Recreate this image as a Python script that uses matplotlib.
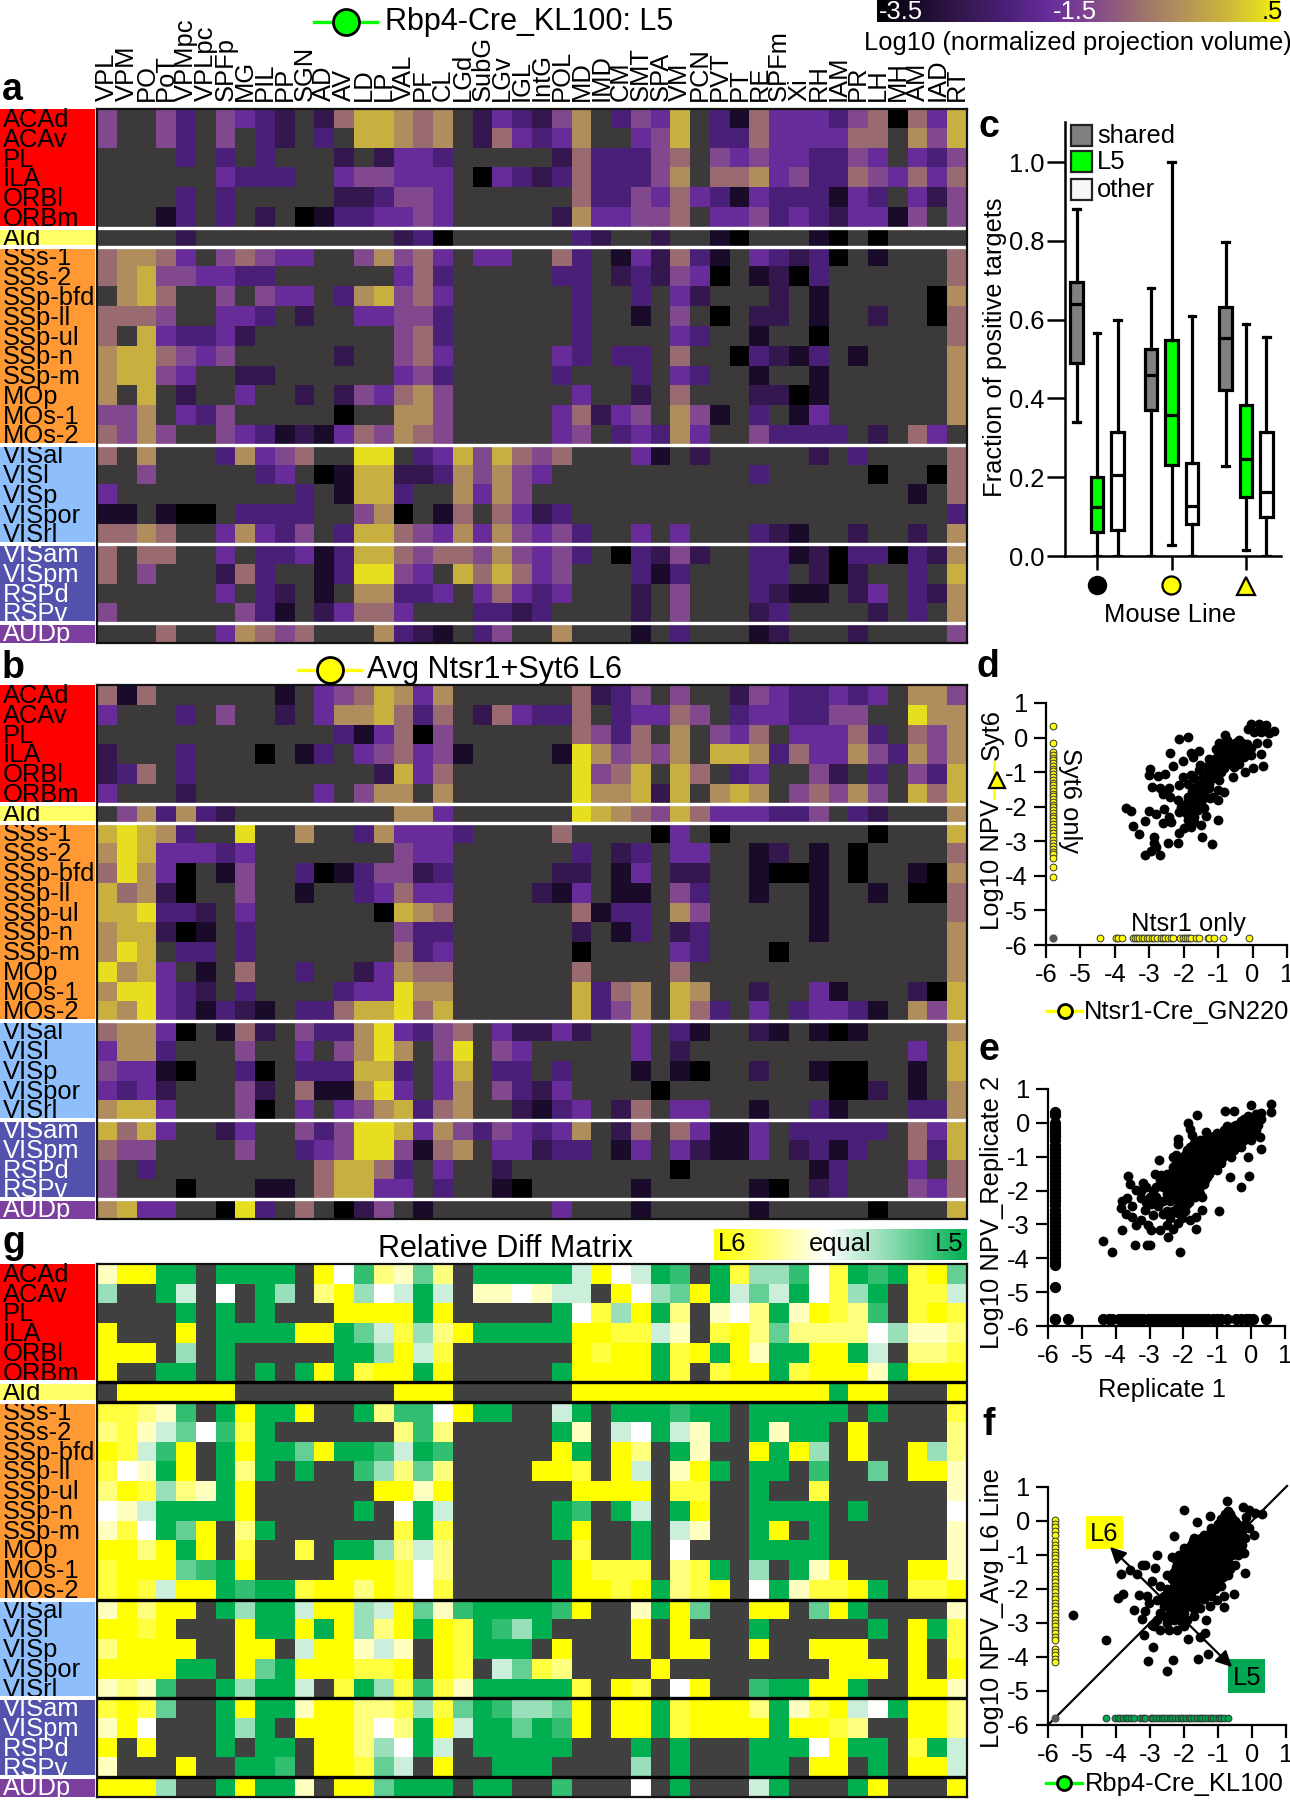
import numpy as np
import matplotlib
matplotlib.use('Agg')
import matplotlib.pyplot as plt
from matplotlib.colors import LinearSegmentedColormap
from matplotlib.patches import Rectangle

plt.rcParams['font.family'] = ['Liberation Sans', 'DejaVu Sans']
plt.rcParams['axes.unicode_minus'] = False

targets = ['VPL', 'VPM', 'PO', 'PoT', 'VPMpc', 'VPLpc', 'SPFp', 'MG', 'PIL', 'PP', 'SGN', 'AD', 'AV', 'LD', 'LP',
           'VAL', 'PF', 'CL', 'LGd', 'SubG', 'LGv', 'IGL', 'IntG', 'POL', 'MD', 'IMD', 'CM', 'SMT', 'SPA', 'VM',
           'PCN', 'PVT', 'PT', 'RE', 'SPFm', 'Xi', 'RH', 'IAM', 'PR', 'LH', 'MH', 'AM', 'IAD', 'RT']
sources = ['ACAd', 'ACAv', 'PL', 'ILA', 'ORBl', 'ORBm', 'AId', 'SSs-1', 'SSs-2', 'SSp-bfd', 'SSp-ll', 'SSp-ul',
           'SSp-n', 'SSp-m', 'MOp', 'MOs-1', 'MOs-2', 'VISal', 'VISl', 'VISp', 'VISpor', 'VISrl', 'VISam', 'VISpm',
           'RSPd', 'RSPv', 'AUDp']

# one digit per cell: 0 darkest .. 9 brightest, "." no projection
rbp4_levels = [
    "5..5 3.54 32.2 6887 67.2 4325 7.35 48.3 1644 4356 0648",
    "5..5 3.5. 32.3 .887 67.2 6434 7..4 58.3 3644 4466 .758",
    ".... 3.3. 3... 2.24 43.. ...2 6333 56.5 4544 3354 .435",
    ".... ..43 33.. 4554 44.0 4323 6333 57.6 6745 3365 4646",
    ".... 3.3. .... 2235 54.. .... 6335 4643 1433 3143 .425",
    "...1 3.3. 2.01 3344 54.. ...2 7445 56.4 4534 3244 15.5",
    ".... 2... .... ...2 30.. .... 32.. 2..1 0... 10.0 ....",
    "6776 4.56 544. .575 64.4 4..6 3.14 2631 .432 30.1 ...6",
    "6785 5443 3... ...4 63.. ...3 3.23 2540 .120 3... ...6",
    ".786 ..5. 544. 3785 64.. .... 3..3 .42. ..2. 1... ..07",
    "6665 ..44 3.2. .445 53.. .... 3..1 .5.0 .22. 1..2 ..06",
    "6.84 3342 .... ...5 63.. .... 3... .43. .1.. 0... ...6",
    "7886 545. .... 2..5 64.. ...4 3.33 .6.. 0321 3.1. ...7",
    "7885 4..2 2... ...4 53.. ...3 ...3 .43. .1.. 1... ...7",
    "7.8. 2..4 ..2. 2546 75.. .... 4..2 .6.. .220 1... ...7",
    "557. 435. .... 0..7 75.. ...4 6245 .751 .3.1 4... ...7",
    "6575 ..54 3121 4657 65.. ...4 5.34 374. .533 33.2 .64.",
    "6.7. ..37 456. .99. 3485 8656 ...4 1.2. .... 2.3. ...6",
    "..5. .... 34.0 1882 2375 754. .... .... .3.. ...0 ..06",
    "4... .... ..3. 1883 ..74 75.. .... .... .... .... .1.6",
    "11.1 00.3 333. .570 .16. 6423 .... .... .... .... ...3",
    "6676 ..47 435. 3886 5474 7545 3..4 .4.. .321 ..2. .2.7",
    "6.66 ..4. 3341 3886 5665 7545 3.03 252. .331 2033 0327",
    "6.5. ..26 3..1 3995 4.86 8645 ...3 13.. .33. 202. .3.8",
    ".... ..4. 32.1 .773 34.4 6434 ...2 .5.. .321 1.24 .327",
    "5... ...5 31.2 4664 ...3 323. ...2 .5.. .23. ...2 .3.7",
    "...6 ..47 656. ..73 21.3 5..7 ...1 .3.. .12. ..2. ...5",
]
avg_l6_levels = [
    "616. .... .1.4 5687 47.. .... 6235 .5.. 2543 3434 .775",
    "4... 3.5. .2.4 7786 36.2 6433 6.34 465. 3443 355. .977",
    ".... .... .... 3146 05.. .... 6536 .7.5 46.4 4463 .657",
    "2... 3... 0.13 .456 451. ...1 9756 57.8 8736 4475 3757",
    "236. 3... .... ..28 46.. .... 9568 .86. 34.. 52.3 .538",
    "4... 2... ...4 .577 .7.. .... 9778 28.7 87.5 6575 .868",
    ".573 732. .... ...7 74.. .... 9876 5864 4433 5.32 ...7",
    "8987 3..9 ..7. .374 443. ...6 .... 04.0 .... ...0 ...8",
    "7984 4434 .... ...5 44.. .... 3.23 .44. .12. 1.0. ...6",
    "6974 0.15 ..30 1355 23.. ...2 2.14 .22. .100 1.0. .107",
    "8672 0..5 ..1. .346 44.. ..21 4.11 .53. .1.. 1..1 .006",
    "8893 32.4 .... ..08 76.. .... 6133 .75. .... 1... ...6",
    "7882 01.3 .... ...5 33.. .... 2.13 .23. .... 1... ...7",
    "798. 33.3 .... ...6 34.. .... 0... .43. ..0. .... ...7",
    "9784 .1.6 ..3. .247 66.. .... 6... .6.. .... .... ...7",
    "7994 32.3 .... 3449 77.. .... 8367 .87. .2.. 41.. .208",
    "8794 3132 1.33 6889 68.. .... 8357 .863 .4.3 4431 .758",
    "6774 0.16 2.53 3794 356. 4224 2..4 .31. .21. 101. ...7",
    "4773 ...5 ..4. 5797 .59. 54.. ...4 .2.. .... .... .4.8",
    "5441 0..3 0.33 3883 .48. 33.3 ...1 .10. .2.. 100. .1.8",
    "4342 ...5 2.61 1794 .47. 5324 .... 0... .... .002 .1.7",
    "7884 ...5 0.4. 4578 367. .213 4.26 .44. .1.. 31.. .337",
    "8684 ..24 ..53 5998 4753 5434 7.26 .641 14.3 3333 .648",
    "655. ...5 ..34 5995 167. 4423 3.14 .421 14.2 313. .638",
    "5.3. .... ...6 8863 .4.. 2... .... .0.. .... 13.. .4.6",
    "5... 0... 11.6 8844 .3.. 10.. ...1 .... .10. 23.. .546",
    "7844 ..09 3.6. 025. 1... ...4 ...1 .... .1.. ...0 ...8",
]
# 0 full L6 yellow, 4 equal, 9 full L5 green, "." not shared
rel_diff_levels = [
    "3009 9.99 99.0 4823 72.9 9999 5045 98.9 1668 4198 9107",
    "6..9 5.4. 96.2 0645 95.3 3435 5.04 6709 5759 4169 .115",
    ".... 9.9. 9... 0000 90.. ...9 4160 92.3 4293 0128 .101",
    "0... 0.99 9900 9751 6209 9999 0011 53.1 0272 2224 6332",
    "000. 6.9. .... 9960 51.. .... 0100 9109 0399 0095 .221",
    "0..9 9.9. 9.90 9100 90.. ...9 0000 91.1 0091 0003 9000",
    ".000 000. .... ...0 00.. .... 0000 0000 0000 0900 ...0",
    "1123 8.90 990. .928 8409 9..5 9.99 9899 .999 99.9 ...1",
    "2135 7481 9... ...2 82.. ...9 3.54 9539 .939 9.0. ...2",
    "0158 0.90 9970 9985 98.. ...0 9.02 .93. .090 6.0. .062",
    "1439 0.92 9.9. .862 72.. ..00 1.05 .309 .99. 8..7 .003",
    "2016 2390 .... ..00 30.. .... 0000 .11. .9.. 1... ...3",
    "4359 9990 .... .9.4 95.. ...9 8.95 .90. .999 9.9. ...4",
    "3149 70.2 9... ...1 91.. ...9 0..9 .53. .90. 9... ...3",
    "0020 90.1 ..1. 9962 52.. .... 1..9 .4.. .999 9... ...3",
    "1000 7890 .... 0001 42.. ...9 0111 .219 .6.9 30.. .003",
    "1015 0098 9910 0201 41.. ...9 0010 9210 .493 1109 .110",
    "3020 0.96 9950 0650 7389 9998 0..3 907. .00. 709. ...3",
    "0010 ...0 9909 0620 9019 869. ...0 .0.. .9.. ...9 .091",
    "2000 0..0 0.50 0353 .019 99.0 ...0 .00. .0.. 000. .0.1",
    "0000 99.0 7900 0110 .01. 5712 .... 0... .... .000 .0.0",
    "3238 ..96 995. 1961 8139 9999 1.01 .40. .899 009. .003",
    "1017 ..90 9930 0221 6179 8667 0.00 9100 0293 1054 9002",
    "304. ..96 9.00 0242 9059 9798 0.00 9100 0090 012. .002",
    "0.0. ..9. 99.0 0264 95.9 9999 ...9 .9.. .999 4099 .195",
    "3... 0..9 98.0 0175 .0.. 999. ...6 .9.. .99. 00.9 .005",
    "0006 ..90 993. 0079 99.9 9..8 ...4 .9.. .59. ..90 ...0",
]

# boxes: low whisker, q1, median, q3, high whisker
shared_boxes = [(0.34, 0.49, 0.64, 0.695, 0.88), (0.0, 0.37, 0.46, 0.525, 0.68), (0.228, 0.422, 0.553, 0.632, 0.798)]
l5_boxes = [(0.0, 0.062, 0.125, 0.20, 0.567), (0.028, 0.232, 0.358, 0.547, 1.0), (0.016, 0.151, 0.246, 0.383, 0.59)]
other_boxes = [(0.0, 0.067, 0.205, 0.315, 0.60), (0.0, 0.08, 0.127, 0.235, 0.61), (0.0, 0.10, 0.163, 0.315, 0.555)]

d_points = [(-2.39, -.44), (-2.14, -.05), (-1.87, .02), (-2.30, -.81), (-2.97, -.92), (-3.0, -1.07), (-2.75, -1.12),
            (-2.54, -1.04), (-2.92, -1.42), (-2.69, -1.47), (-2.42, -1.45), (-2.61, -1.63), (-2.40, -1.71),
            (-2.14, -1.37), (-2.02, -.67), (-1.79, -.46), (-1.57, -.38), (-1.74, -.56), (-2.01, -1.15), (-1.79, -1.09),
            (-1.88, -1.33), (-1.69, -1.18), (-1.52, -.80), (-1.26, -.63), (-1.35, -.85), (-1.06, -.32), (-.79, .07),
            (-.74, -.08), (-.97, -.17), (-.63, -.41), (-.39, -.08), (-.24, -.27), (-.05, -.51), (-.53, -.56),
            (-.72, -.75), (-.92, -.99), (-1.11, -1.13), (-1.30, -1.04), (-1.50, -1.33), (-1.26, -1.33), (-1.01, -1.52),
            (-.82, -1.57), (-1.16, -1.71), (-1.01, -1.81), (-1.35, -1.71), (-1.69, -1.71), (-1.88, -1.71),
            (-2.17, -1.81), (-2.08, -2.0), (-1.88, -2.0), (-1.69, -1.90), (-1.50, -1.90), (-1.79, -2.19), (-1.59, -2.10),
            (-1.88, -2.38), (-1.69, -2.29), (-1.79, -2.58), (-1.50, -2.53), (-1.98, -2.63), (-2.13, -2.77),
            (-1.48, -2.88), (-1.19, -3.08), (-1.35, -2.26), (-1.01, -2.37), (-2.56, -2.08), (-2.15, -2.16),
            (-2.80, -2.21), (-2.42, -2.29), (-2.61, -2.48), (-2.37, -2.43), (-2.46, -3.04), (-2.17, -3.06),
            (-3.69, -2.05), (-3.53, -2.13), (-3.46, -2.56), (-3.29, -2.78), (-3.11, -2.41), (-3.0, -2.12),
            (-3.11, -3.40), (-2.87, -2.88), (-2.95, -3.27), (-2.80, -3.17), (-2.69, -3.41), (-2.85, -3.06),
            (-.58, -1.13), (-.22, -.99), (.02, -.89), (.31, -.82), (-.14, .26), (-.05, .40), (.19, .40), (.39, .36),
            (.63, .19), (.48, .12), (.24, .16), (.05, .16), (.14, -.17), (.42, -.17), (.24, -.48), (-.14, -.37),
            (-.34, -.46), (-.43, -.61), (-.63, -.70), (-.82, -.89), (-.97, -1.23), (-1.26, -1.47), (-1.45, -1.57),
            (-1.64, -1.52), (-.24, -.56), (-.39, -.75), (-.53, -.85), (-1.45, -1.15), (-1.2, -.95), (-1.0, -.75),
            (-.8, -.55), (-.55, -.25), (-.3, -.15), (-1.55, -.95), (-1.9, -1.9), (-1.4, -2.05)]
d_core = [(-1.25, -.8), (-1.15, -.7), (-1.05, -.6), (-.9, -.45), (-.8, -.3), (-.65, -.2), (-.5, -.3), (-.5, -.15), (-.15, -.2),
          (-.05, -.3), (-1.6, -1.4), (-1.4, -1.3), (-1.2, -1.2), (-1.5, -1.55), (-1.25, -1.75), (-1.75, -1.55), (-1.55, -1.75),
          (-1.8, -1.85), (-1.65, -2.0), (-1.9, -2.2), (-1.7, -2.45), (-1.05, -.95), (-.85, -.65), (-.7, -.55), (-.45, -.4)]
d_only_syt6 = [.33, -.15, -.42, -.5, -.58, -.66, -.74, -.82, -.9, -.98, -1.06, -1.14, -1.22, -1.3, -1.38, -1.46, -1.54,
               -1.62, -1.7, -1.78, -1.86, -1.94, -2.02, -2.1, -2.18, -2.26, -2.34, -2.42, -2.5, -2.58, -2.66, -2.76,
               -2.85, -2.95, -3.05, -3.14, -3.22, -3.3, -3.38, -3.48, -3.75, -4.02]
d_only_ntsr1 = [-4.42, -3.98, -3.91, -3.78, -3.48, -3.42, -3.36, -3.29, -3.22, -3.15, -3.08, -3.0, -2.93, -2.87, -2.78,
                -2.66, -2.6, -2.53, -2.46, -2.37, -2.3, -2.1, -2.03, -1.96, -1.9, -1.84, -1.79, -1.64, -1.57, -1.3,
                -1.26, -1.13, -.85, -.1]

e_points = [(.6, .56), (.6, .32), (0, .53), (-.76, .36), (-.5, .36), (-1.6, .23), (-1.86, 0), (-1.81, -.19), (-1.34, -.26),
            (-2.16, -.47), (-2.16, -.62), (-1.76, -.35), (.26, -.43), (.28, -.78), (-.06, -1.57), (-.29, -1.89),
            (-.63, -1.59), (-.95, -2.6), (-1.44, -2.57), (-1.62, -3.14), (-2.09, -3.81), (-2.46, -3.36), (-3.07, -3.6),
            (-3.0, -3.6), (-3.42, -3.6), (-4.37, -3.5), (-4.12, -3.82), (-3.8, -3.17), (-3.85, -2.52), (-3.8, -2.3),
            (-3.66, -2.23), (-3.71, -2.69), (-3.52, -2.47), (-3.52, -2.77), (-3.39, -3.01), (-3.24, -2.87), (-3.04, -3.01),
            (-2.95, -3.16), (-2.7, -3.16), (-2.5, -3.01), (-2.31, -3.14), (-2.16, -2.97), (-1.81, -2.87), (-1.62, -2.77),
            (-3.63, -1.57), (-3.59, -1.81), (-2.73, -1.09), (-2.85, -1.52), (-3.19, -1.78), (-3.39, -1.98), (-3.24, -2.23),
            (-3.14, -2.57), (-2.9, -2.72), (-2.31, -1.0), (-2.21, -.95), (-3.1, -1.9), (-3.0, -2.2), (-2.9, -2.0),
            (-2.8, -2.2), (-2.7, -1.7), (-2.6, -1.9), (-2.6, -2.3), (-2.5, -1.5), (-2.5, -2.1), (-2.5, -2.6), (-2.4, -1.8),
            (-2.4, -2.3), (-2.3, -1.3), (-2.3, -1.6), (-2.3, -2.0), (-2.3, -2.6), (-2.2, -1.4), (-2.2, -1.8), (-2.2, -2.2),
            (-2.2, -2.5), (-2.1, -1.2), (-2.1, -1.6), (-2.1, -2.0), (-2.1, -2.4), (-2.05, -2.8), (-2.0, -1.0), (-2.0, -1.4),
            (-2.0, -1.8), (-2.0, -2.2), (-1.9, -.8), (-1.9, -1.2), (-1.9, -1.6), (-1.9, -2.0), (-1.9, -2.4), (-1.8, -.7),
            (-1.8, -1.0), (-1.8, -1.4), (-1.8, -1.8), (-1.8, -2.2), (-1.7, -.6), (-1.7, -.9), (-1.7, -1.3), (-1.7, -1.6),
            (-1.7, -2.0), (-1.6, -.7), (-1.6, -1.1), (-1.6, -1.5), (-1.6, -1.8), (-1.5, -.5), (-1.5, -.9), (-1.5, -1.3),
            (-1.5, -1.7), (-1.5, -2.1), (-1.4, -.6), (-1.4, -1.0), (-1.4, -1.4), (-1.4, -1.8), (-1.3, -.4), (-1.3, -.8),
            (-1.3, -1.2), (-1.3, -1.6), (-1.2, -.7), (-1.2, -1.0), (-1.2, -1.4), (-1.1, -.4), (-1.1, -.8), (-1.1, -1.2),
            (-1.0, -.3), (-1.0, -.6), (-1.0, -1.0), (-1.0, -1.4), (-.9, -.4), (-.9, -.8), (-.9, -1.2), (-.8, -.2), (-.8, -.5),
            (-.8, -.9), (-.7, -.1), (-.7, -.4), (-.7, -.7), (-.6, -.3), (-.6, -.6), (-.6, -1.0), (-.5, -.1), (-.5, -.4),
            (-.5, -.8), (-.4, -.2), (-.4, -.5), (-.3, .05), (-.3, -.3), (-.3, -.7), (-.2, .1), (-.2, -.2), (-.2, -.5), (-.1, .2),
            (-.1, -.1), (-.1, -1.0), (0, .15), (0, -.2), (0, -.5), (.1, .1), (.1, -.1), (.2, .2), (.2, -.05), (.3, .3), (.3, .1)]
e_core = [(-2.65, -1.55), (-2.55, -1.75), (-2.45, -1.65), (-2.45, -1.95), (-2.35, -1.45), (-2.35, -1.75), (-2.35, -2.15),
          (-2.25, -1.25), (-2.25, -1.75), (-2.25, -2.1), (-2.15, -1.05), (-2.15, -1.5), (-2.15, -1.9), (-2.15, -2.3),
          (-2.15, -2.65), (-2.05, -1.3), (-2.05, -1.7), (-2.05, -2.1), (-2.05, -2.5), (-1.95, -.95), (-1.95, -1.5),
          (-1.95, -1.85), (-1.95, -2.25), (-1.95, -2.6), (-1.85, -.85), (-1.85, -1.25), (-1.85, -1.55), (-1.85, -1.95),
          (-1.85, -2.35), (-1.75, -.75), (-1.75, -1.15), (-1.75, -1.5), (-1.75, -1.9), (-1.65, -.9), (-1.65, -1.25),
          (-1.65, -1.65), (-1.65, -2.2), (-1.55, -.6), (-1.55, -1.0), (-1.55, -1.4), (-1.55, -1.95), (-1.45, -.75),
          (-1.45, -1.15), (-1.45, -1.55), (-1.45, -2.2), (-1.35, -.5), (-1.35, -.9), (-1.35, -1.3), (-1.35, -1.7),
          (-1.25, -.55), (-1.25, -.95), (-1.25, -1.5), (-1.15, -.55), (-1.15, -.95), (-1.15, -1.35), (-1.05, -.45),
          (-1.05, -.85), (-1.05, -1.2), (-.95, -.55), (-.95, -.95), (-.85, -.3), (-.85, -.65), (-.85, -1.05), (-.75, -.25),
          (-.75, -.55), (-.75, -.9), (-.65, -.2), (-.65, -.5), (-.65, -.85), (-.55, -.25), (-.55, -.55), (-.45, -.05),
          (-.45, -.35), (-.45, -.65), (-.35, -.1), (-.35, -.4), (-.25, .0), (-.25, -.3), (-.15, .05), (-.15, -.35), (-.05, .1),
          (-.05, -.25), (.05, .05), (.05, -.3), (.15, .25), (.15, -.2), (.25, .1), (-2.8, -1.9), (-2.95, -2.4), (-2.75, -2.45),
          (-2.6, -2.7), (-2.4, -2.8), (-3.25, -2.0), (-3.1, -2.35)]
e_only_rep2 = [.32, .22, .0, -.1, -.2, -.3, -.4, -.52, -.64, -.76, -.88, -1.0, -1.12, -1.24, -1.36, -1.48, -1.6, -1.72,
               -1.84, -1.96, -2.08, -2.2, -2.32, -2.44, -2.56, -2.68, -2.8, -2.92, -3.04, -3.16, -3.28, -3.4, -3.52, -3.64,
               -3.76, -3.88, -4.0, -4.12, -4.2, -4.85, -5.8]
e_only_rep1 = [-5.8, -5.4, -4.37, -4.2, -4.1, -3.9, -3.78, -3.66, -3.54, -3.42, -3.3, -3.18, -3.06, -2.94, -2.82, -2.7,
               -2.58, -2.46, -2.34, -2.22, -2.1, -1.98, -1.86, -1.74, -1.62, -1.5, -1.38, -1.26, -1.14, -1.02, -.9, -.7,
               -.45, -.3, -.15, -.05, .05, .45]

f_points = [(-2.01, .33), (-1.62, -.04), (-1.23, .14), (-.74, .58), (-.26, .41), (.29, .2), (.05, -.40), (-.17, .12), (.1, .24),
            (-.1, .33), (-2.30, -.43), (-2.79, -1.01), (-2.34, -1.06), (-3.24, -1.28), (-3.14, -1.30), (-2.86, -1.38),
            (-3.58, -1.43), (-3.38, -1.55), (-3.84, -1.55), (-3.95, -2.26), (-3.8, -2.14), (-3.33, -2.17), (-3.48, -2.63),
            (-3.14, -2.66), (-3.25, -2.88), (-5.27, -2.77), (-4.29, -3.49), (-3.19, -3.34), (-2.91, -3.71), (-3.07, -4.11),
            (-2.32, -4.10), (-2.5, -4.42), (-1.6, -4.05), (-1.29, -3.9), (-1.88, -3.47), (-1.52, -3.41), (-1.37, -3.29),
            (-1.34, -2.92), (-.54, -2.15), (-.83, -2.54), (-.2, -1.53), (-.25, -.94), (-2.94, -1.77), (-3.04, -2.41),
            (-2.79, -2.31), (-3.09, -2.22), (-2.6, -2.51), (-2.89, -3.1), (-2.7, -3.2), (-2.45, -3.2), (-2.2, -3.2),
            (-2.1, -2.95), (-2.3, -2.8), (-2.79, -2.9), (-2.94, -3.05), (-2.7, -2.71), (-1.91, -2.9), (-1.72, -2.8),
            (-1.52, -2.56), (-1.23, -2.51), (-1.03, -2.31), (-.83, -2.22), (-2.7, -1.9), (-2.6, -2.2), (-2.6, -2.8),
            (-2.5, -1.6), (-2.5, -2.0), (-2.5, -3.0), (-2.4, -2.2), (-2.4, -2.6), (-2.3, -1.5), (-2.3, -1.9), (-2.3, -2.9),
            (-2.2, -1.2), (-2.2, -1.6), (-2.2, -2.0), (-2.2, -2.4), (-2.2, -2.8), (-2.1, -1.4), (-2.1, -1.8), (-2.1, -2.2),
            (-2.0, -.8), (-2.0, -1.1), (-2.0, -1.5), (-2.0, -1.9), (-2.0, -2.7), (-2.0, -3.1), (-1.9, -1.0), (-1.9, -1.3),
            (-1.9, -1.7), (-1.9, -2.1), (-1.8, -.7), (-1.8, -1.1), (-1.8, -1.5), (-1.8, -1.9), (-1.8, -2.3), (-1.7, -.5),
            (-1.7, -.9), (-1.7, -1.3), (-1.7, -1.7), (-1.7, -2.1), (-1.7, -2.6), (-1.6, -.7), (-1.6, -1.1), (-1.6, -1.5),
            (-1.6, -1.9), (-1.6, -2.3), (-1.5, -.5), (-1.5, -.9), (-1.5, -1.3), (-1.5, -1.7), (-1.5, -2.1), (-1.4, -.4),
            (-1.4, -.7), (-1.4, -1.1), (-1.4, -1.5), (-1.4, -1.9), (-1.4, -2.3), (-1.3, -.5), (-1.3, -.9), (-1.3, -1.3),
            (-1.3, -1.7), (-1.3, -2.1), (-1.2, -.2), (-1.2, -.6), (-1.2, -1.0), (-1.2, -1.4), (-1.2, -1.8), (-1.2, -2.2),
            (-1.1, -.4), (-1.1, -.8), (-1.1, -1.2), (-1.1, -1.6), (-1.1, -2.0), (-1.0, -.1), (-1.0, -.5), (-1.0, -.9),
            (-1.0, -1.3), (-1.0, -1.7), (-.9, .05), (-.9, -.3), (-.9, -.7), (-.9, -1.1), (-.9, -1.5), (-.9, -1.9), (-.8, .2),
            (-.8, -.2), (-.8, -.6), (-.8, -1.0), (-.8, -1.4), (-.7, .3), (-.7, -.1), (-.7, -.4), (-.7, -.8), (-.7, -1.2),
            (-.7, -1.6), (-.6, .1), (-.6, -.3), (-.6, -.6), (-.6, -1.0), (-.5, 0), (-.5, -.4), (-.5, -.8), (-.5, -1.3),
            (-.4, -.2), (-.4, -.6), (-.4, -1.0), (-.3, -.3), (-.3, -.7), (-.2, -.1), (-.2, -.5), (-.1, -.2)]
f_core = [(-2.55, -2.4), (-2.45, -2.3), (-2.45, -2.75), (-2.35, -1.7), (-2.35, -2.05), (-2.35, -2.45), (-2.25, -1.35),
          (-2.25, -1.75), (-2.25, -2.2), (-2.25, -2.6), (-2.15, -1.0), (-2.15, -1.5), (-2.15, -1.9), (-2.15, -2.3),
          (-2.15, -2.65), (-2.05, -1.25), (-2.05, -1.7), (-2.05, -2.1), (-2.05, -2.5), (-1.95, -.9), (-1.95, -1.15),
          (-1.95, -1.5), (-1.95, -1.9), (-1.95, -2.3), (-1.85, -.85), (-1.85, -1.2), (-1.85, -1.6), (-1.85, -2.0),
          (-1.85, -2.5), (-1.75, -.6), (-1.75, -1.05), (-1.75, -1.45), (-1.75, -1.85), (-1.75, -2.3), (-1.65, -.8),
          (-1.65, -1.2), (-1.65, -1.6), (-1.65, -2.0), (-1.65, -2.45), (-1.55, -.6), (-1.55, -1.0), (-1.55, -1.4),
          (-1.55, -1.8), (-1.55, -2.2), (-1.45, -.55), (-1.45, -.85), (-1.45, -1.2), (-1.45, -1.6), (-1.45, -2.0),
          (-1.35, -.6), (-1.35, -1.0), (-1.35, -1.4), (-1.35, -1.8), (-1.35, -2.2), (-1.25, -.35), (-1.25, -.75),
          (-1.25, -1.15), (-1.25, -1.55), (-1.25, -1.95), (-1.15, -.3), (-1.15, -.7), (-1.15, -1.1), (-1.15, -1.5),
          (-1.15, -1.9), (-1.05, -.25), (-1.05, -.65), (-1.05, -1.05), (-1.05, -1.45), (-1.05, -1.85), (-.95, -.1),
          (-.95, -.5), (-.95, -.9), (-.95, -1.3), (-.95, -1.7), (-.85, .1), (-.85, -.4), (-.85, -.85), (-.85, -1.25),
          (-.85, -1.65), (-.75, .1), (-.75, -.3), (-.75, -.7), (-.75, -1.1), (-.65, .2), (-.65, -.2), (-.65, -.5),
          (-.65, -.9), (-.65, -1.4), (-.55, -.1), (-.55, -.45), (-.55, -.8), (-.45, -.1), (-.45, -.5), (-.45, -.85),
          (-.35, -.4), (-.35, -.8)]
f_only_l6 = [.02, -.08, -.18, -.3, -.4, -.6, -.7, -.8, -.9, -1.0, -1.1, -1.2, -1.3, -1.4, -1.5, -1.6, -1.7, -1.8, -1.9, -2.0,
             -2.1, -2.2, -2.3, -2.4, -2.5, -2.6, -2.7, -2.8, -2.9, -3.0, -3.1, -3.2, -3.3, -3.4, -3.5, -3.75, -3.85, -3.95,
             -4.05, -4.15]
f_only_l5 = [-4.3, -4.02, -3.95, -3.88, -3.8, -3.72, -3.64, -3.56, -3.48, -3.3, -3.22, -3.15, -2.98, -2.9, -2.82, -2.74,
             -2.66, -2.58, -2.5, -2.42, -2.34, -2.26, -2.18, -2.1, -2.02, -1.94, -1.86, -1.78, -1.7, -1.62, -1.54, -1.46,
             -1.38, -1.3, -1.22, -1.14, -1.06, -.98, -.9, -.82, -.7]

groups = [(0, 6, '#ff0000', 'black'), (6, 7, '#ffff66', 'black'), (7, 17, '#ff9933', 'black'),
          (17, 22, '#8fbffa', 'black'), (22, 26, '#5353ad', 'white'), (26, 27, '#7d3f9e', 'white')]
splits = [6, 7, 17, 22, 26]

W, H = 1290, 1800
fig = plt.figure(figsize=(W / 100, H / 100), dpi=100)
SMALL = 18.4
BIG = 18.4
TITLE = 22

npv_cmap = LinearSegmentedColormap.from_list('npv', [
    (0, '#000000'), (.107, '#1c0c2c'), (.213, '#351850'), (.32, '#4a2078'), (.427, '#682c9c'), (.533, '#82488f'),
    (.64, '#9a6c70'), (.747, '#b08e5c'), (.853, '#c8b040'), (.96, '#e6de20'), (1, '#ffff00')])
npv_cmap.set_bad('#3b393a')
diff_cmap = LinearSegmentedColormap.from_list('diff', [(0, '#ffff00'), (4 / 9, '#ffffff'), (1, '#00b050')])
diff_cmap.set_bad('#404040')


def ax_px(x0, y0, x1, y1, **kw):
    return fig.add_axes([x0 / W, 1 - y1 / H, (x1 - x0) / W, (y1 - y0) / H], **kw)


def decode(rows):
    cells = []
    for i, row in enumerate(rows):
        row = row.replace(' ', '')
        if len(row) != 44:
            raise ValueError(f"row {i} has {len(row)} cells: {row}")
        cells.append([np.nan if c == '.' else int(c) for c in row])
    return np.array(cells, dtype=float)


def heatmap(top, bottom, levels, cmap, vmax, line_color):
    ax = ax_px(97, top, 967, bottom)
    ax.imshow(np.ma.masked_invalid(decode(levels)), cmap=cmap, vmin=0, vmax=vmax, aspect='auto', interpolation='nearest')
    ax.set_xticks([])
    ax.set_yticks([])
    for s in ax.spines.values():
        s.set_linewidth(1.6)
        s.set_color('#111111')
    for k in splits:
        ax.axhline(k - .5, color=line_color, lw=2.4)
    # the region labels, with white gaps that cut the text the way the figure does
    rh = (bottom - top) / 27
    for first, last, color, tcolor in groups:
        over.add_patch(Rectangle((0, top + first * rh), 95, (last - first) * rh, fc=color, ec='none', zorder=1))
        for i in range(first, last):
            over.text(3, top + i * rh + 18, sources[i], color=tcolor, fontsize=BIG, va='baseline', ha='left',
                      zorder=2, clip_on=True)
    for k in splits:
        over.add_patch(Rectangle((0, top + k * rh - 2), 96, 4, fc='white', ec='none', zorder=3))
    return ax


def legend_mark(x0, x1, y, color, r=13):
    over.plot([x0, x1], [y, y], color=color, lw=2.4, zorder=4)
    over.plot([(x0 + x1) / 2], [y], 'o', ms=r * 2 * .72, mfc=color, mec='black', mew=2, zorder=5)


def scatter_panel(x0, y0, x1, y1, points, only_y, only_x, y_color='#ffff00', x_color='#ffff00', small=True):
    ax = ax_px(x0, y0, x1, y1)
    ax.set_xlim(-6, 1)
    ax.set_ylim(-6, 1)
    ax.patch.set_alpha(0)
    for s in ['top', 'right']:
        ax.spines[s].set_visible(False)
    for s in ['left', 'bottom']:
        ax.spines[s].set_linewidth(1.6)
    ax.tick_params(length=9, width=1.6, labelsize=SMALL, pad=4)
    ax.set_xticks(range(-6, 2))
    ax.set_yticks(range(-6, 2))
    if small:
        ax.scatter([-5.8] * len(only_y), only_y, s=24, c=y_color, edgecolors='#333333', linewidths=.7, clip_on=False, zorder=3)
        ax.scatter(only_x, [-5.8] * len(only_x), s=24, c=x_color, edgecolors='#333333', linewidths=.7, clip_on=False, zorder=3)
    else:
        ax.scatter([-5.8] * len(only_y), only_y, s=50, c='black', clip_on=False, zorder=3)
        ax.scatter(only_x, [-5.8] * len(only_x), s=50, c='black', clip_on=False, zorder=3)
    xs, ys = zip(*points)
    ax.scatter(xs, ys, s=50, c='black', linewidths=0, clip_on=False, zorder=4)
    return ax


over = ax_px(0, 0, W, H, zorder=10)
over.set_xlim(0, W)
over.set_ylim(H, 0)
over.axis('off')

heatmap(109, 643, rbp4_levels, npv_cmap, 9.4, 'white')
heatmap(685, 1219, avg_l6_levels, npv_cmap, 9.4, 'white')
heatmap(1264, 1797, rel_diff_levels, diff_cmap, 9, 'black')

# column labels sit only over panel a
rw = 870 / 44
for i, name in enumerate(targets):
    over.text(97 + (i + .5) * rw, 101, name, rotation=90, fontsize=BIG, ha='center', va='bottom', zorder=2)

for letter, x, y in [('a', 2, 100), ('b', 2, 678), ('c', 978, 137), ('d', 977, 677), ('e', 978, 1060), ('f', 982, 1435), ('g', 2, 1253)]:
    over.text(x, y, letter, fontsize=27, fontweight='bold', va='baseline', ha='left')

legend_mark(314, 377, 22, '#00ff00')
over.text(385, 30, 'Rbp4-Cre_KL100: L5', fontsize=TITLE, va='baseline')
legend_mark(298, 361, 670, '#ffff00')
over.text(367, 678, 'Avg Ntsr1+Syt6 L6', fontsize=TITLE, va='baseline')
over.text(378, 1257, 'Relative Diff Matrix', fontsize=TITLE, va='baseline')

# colour bars
cb = ax_px(877, 0, 1280, 22)
cb.imshow(np.linspace(0, 1, 256)[None, :], cmap=npv_cmap, aspect='auto')
cb.axis('off')
over.text(879, 19, '-3.5', color='white', fontsize=SMALL, va='baseline')
over.text(1053, 19, '-1.5', color='white', fontsize=SMALL, va='baseline')
over.text(1262, 19, '.5', color='black', fontsize=SMALL, va='baseline')
over.text(864, 50, 'Log10 (normalized projection volume)', fontsize=SMALL, va='baseline')

cb2 = ax_px(714, 1229, 967, 1260)
cb2.imshow(np.linspace(0, 1, 256)[None, :], cmap=diff_cmap, aspect='auto')
cb2.axis('off')
over.text(718, 1251, 'L6', fontsize=BIG, va='baseline')
over.text(809, 1251, 'equal', fontsize=BIG, va='baseline')
over.text(963, 1251, 'L5', fontsize=BIG, va='baseline', ha='right')

# panel c
ax_c = ax_px(1065, 122, 1281, 556)
ax_c.set_xlim(.57, 3.47)
ax_c.set_ylim(0, 434 / 394)
ax_c.patch.set_alpha(0)
for offset, boxes, color in [(-.275, shared_boxes, '#808080'), (0, l5_boxes, '#00ff00'), (.275, other_boxes, 'white')]:
    stats = [dict(whislo=b[0], q1=b[1], med=b[2], q3=b[3], whishi=b[4], fliers=[]) for b in boxes]
    line = dict(color='black', linewidth=2.3)
    ax_c.bxp(stats, positions=[1 + offset, 2 + offset, 3 + offset], widths=.17, capwidths=.09, patch_artist=True,
             showfliers=False, boxprops=dict(facecolor=color, edgecolor='black', linewidth=2.3), medianprops=line,
             whiskerprops=line, capprops=line, manage_ticks=False)
for s in ['top', 'right']:
    ax_c.spines[s].set_visible(False)
for s in ['left', 'bottom']:
    ax_c.spines[s].set_linewidth(1.8)
ax_c.set_xticks([1, 2, 3])
ax_c.set_xticklabels([])
ax_c.set_yticks([0, .2, .4, .6, .8, 1])
ax_c.set_yticklabels(['0.0', '0.2', '0.4', '0.6', '0.8', '1.0'])
ax_c.tick_params(axis='y', length=13, width=1.8, labelsize=SMALL, pad=2)
ax_c.tick_params(axis='x', length=10, width=1.8)
over.text(995, 347, 'Fraction of positive targets', rotation=90, fontsize=SMALL, ha='center', va='center')
over.text(1170, 622, 'Mouse Line', fontsize=SMALL, ha='center', va='baseline')
over.plot([1097], [585], 'o', ms=13, mfc='black', mec='black')
over.plot([1171], [585], 'o', ms=13, mfc='#ffff00', mec='black', mew=1.6)
over.plot([1246], [586], '^', ms=13, mfc='#ffff00', mec='black', mew=1.6)
for y, color, name in [(135, '#808080', 'shared'), (161, '#00ff00', 'L5'), (189, '#f7f7f7', 'other')]:
    over.add_patch(Rectangle((1071, y - 10), 21, 21, fc=color, ec='#222222', lw=1.6))
    over.text(1097, y + 8, name, fontsize=SMALL, va='baseline')

# panel d
ax_d = scatter_panel(1046, 703, 1287, 945, d_points + d_core, d_only_syt6, d_only_ntsr1)
ax_d.scatter([-5.8], [-5.8], s=24, c='#555555', clip_on=False, zorder=4)
over.text(1070, 800, 'Syt6 only', rotation=270, fontsize=SMALL, ha='center', va='center')
over.text(1188, 931, 'Ntsr1 only', fontsize=SMALL, ha='center', va='baseline')
over.text(992, 865, 'Log10 NPV', rotation=90, fontsize=SMALL, ha='center', va='center')
over.text(992, 734, 'Syt6', rotation=90, fontsize=SMALL, ha='center', va='center')
over.plot([994, 994], [762, 798], color='#ffff00', lw=2, zorder=4)
over.plot([997], [780], '^', ms=12, mfc='#ffff00', mec='black', mew=1.6, zorder=5)
legend_mark(1047, 1082, 1011, '#ffff00', r=7)
over.text(1084, 1019, 'Ntsr1-Cre_GN220', fontsize=SMALL, va='baseline')

# panel e
scatter_panel(1048, 1089, 1285, 1326, e_points + e_core, e_only_rep2, e_only_rep1, small=False)
over.text(992, 1212, 'Log10 NPV_Replicate 2', rotation=90, fontsize=SMALL, ha='center', va='center')
over.text(1162, 1397, 'Replicate 1', fontsize=SMALL, ha='center', va='baseline')

# panel f
ax_f = scatter_panel(1048, 1487, 1286, 1725, f_points + f_core, f_only_l6, f_only_l5, x_color='#00a651')
ax_f.plot([-6, 1.03], [-6, 1.03], color='black', lw=1.6, clip_on=False, zorder=2)
ax_f.scatter([-5.8], [-5.8], s=24, c='#555555', clip_on=False, zorder=3)
over.add_patch(Rectangle((1086, 1516), 37, 33, fc='#ffff00', ec='none'))
over.add_patch(Rectangle((1228, 1659), 37, 34, fc='#00a651', ec='none'))
over.text(1090, 1541, 'L6', fontsize=SMALL, va='baseline')
over.text(1233, 1685, 'L5', fontsize=SMALL, va='baseline')
over.annotate('', xy=(1108, 1545), xytext=(1234, 1669), zorder=6,
              arrowprops=dict(arrowstyle='<|-|>', color='black', lw=1.6, mutation_scale=24))
over.text(992, 1608, 'Log10 NPV_Avg L6 Line', rotation=90, fontsize=SMALL, ha='center', va='center')
legend_mark(1046, 1082, 1783, '#00ff00', r=7)
over.text(1085, 1791, 'Rbp4-Cre_KL100', fontsize=SMALL, va='baseline')

fig.savefig('out.png', dpi=100)
